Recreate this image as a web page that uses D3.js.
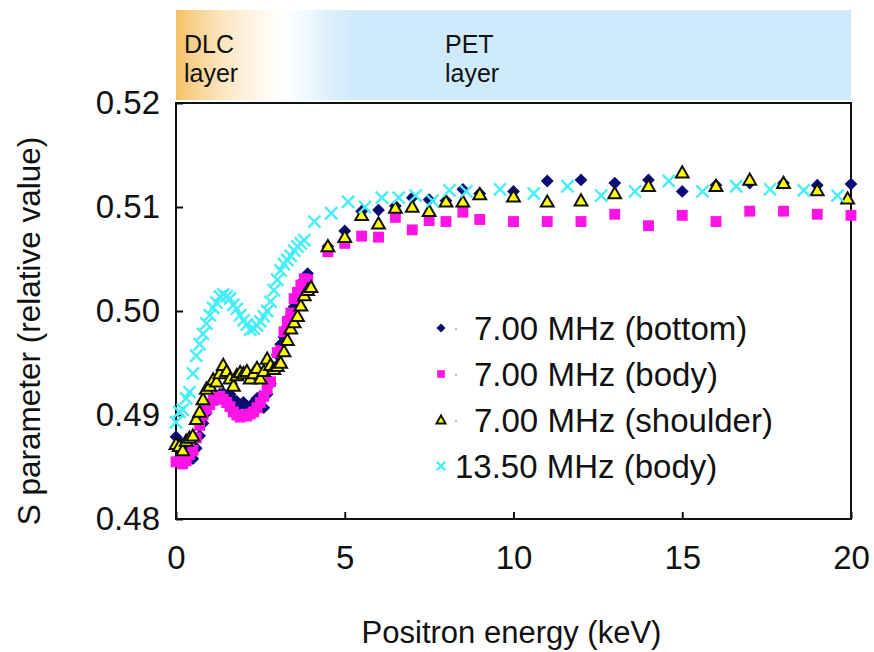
<!DOCTYPE html>
<html>
<head>
<meta charset="utf-8">
<script src="https://cdn.jsdelivr.net/npm/d3@7"></script>
<style>
  html, body { margin: 0; padding: 0; background: #fff; }
  text { font-family: "Liberation Sans", Arial, sans-serif; fill: #111; }
</style>
</head>
<body>
<svg id="chart" width="874" height="652"></svg>
<script>
// Positron energy (keV) and S parameter for each sample series
const bottomE = [0.0,0.1,0.2,0.3,0.4,0.5,0.6,0.7,0.8,0.9,1.0,1.1,1.2,1.3,1.4,1.5,1.6,1.7,1.8,1.9,2.0,2.1,2.2,2.3,2.4,2.5,2.6,2.7,2.8,2.9,3.0,3.1,3.2,3.3,3.4,3.5,3.6,3.7,3.8,3.9,4.5,5.0,5.5,6.0,6.5,7.0,7.5,8.0,8.5,9.0,10,11,12,13,14,15,16,17,18,19,20];
const bottomS = [0.4879,0.4875,0.4870,0.4865,0.4862,0.4858,0.4868,0.4880,0.4892,0.4902,0.4910,0.4914,0.4918,0.4920,0.4921,0.4918,0.4920,0.4915,0.4913,0.4910,0.4912,0.4908,0.4906,0.4912,0.4916,0.4918,0.4907,0.4920,0.4930,0.4945,0.4958,0.4968,0.4975,0.4985,0.4995,0.5004,0.5012,0.5020,0.5030,0.5036,0.5062,0.5077,0.5096,0.5097,0.5101,0.5109,0.5107,0.5106,0.5117,0.5113,0.5115,0.5125,0.5126,0.5123,0.5126,0.5115,0.5121,0.5123,0.5123,0.5121,0.5122];

const bodyE = [0.0,0.1,0.2,0.3,0.4,0.5,0.6,0.7,0.8,0.9,1.0,1.1,1.2,1.3,1.4,1.5,1.6,1.7,1.8,1.9,2.0,2.1,2.2,2.3,2.4,2.5,2.6,2.7,2.8,2.9,3.0,3.1,3.2,3.3,3.4,3.5,3.6,3.7,3.8,3.9,4.5,5.0,5.5,6.0,6.5,7.0,7.5,8.0,8.5,9.0,10,11,12,13,14,15,16,17,18,19,20];
const bodyS = [0.4855,0.4855,0.4853,0.4856,0.4862,0.4866,0.4878,0.4890,0.4900,0.4906,0.4910,0.4914,0.4916,0.4918,0.4915,0.4912,0.4908,0.4903,0.4900,0.4898,0.4900,0.4899,0.4901,0.4903,0.4907,0.4912,0.4918,0.4925,0.4932,0.4945,0.4960,0.4962,0.4980,0.4990,0.4998,0.5012,0.5018,0.5025,0.5031,0.5030,0.5057,0.5065,0.5072,0.5071,0.5090,0.5078,0.5087,0.5086,0.5095,0.5088,0.5086,0.5086,0.5086,0.5093,0.5082,0.5092,0.5086,0.5096,0.5096,0.5093,0.5092];

const shoulderE = [0.0,0.1,0.2,0.3,0.4,0.5,0.6,0.7,0.8,0.9,1.0,1.1,1.2,1.3,1.4,1.5,1.6,1.7,1.8,1.9,2.0,2.1,2.2,2.3,2.4,2.5,2.6,2.7,2.8,2.9,3.0,3.1,3.2,3.3,3.4,3.5,3.6,3.7,3.8,3.9,4.0,4.5,5.0,5.5,6.0,6.5,7.0,7.5,8.0,8.5,9.0,10,11,12,13,14,15,16,17,18,19,19.9];
const shoulderS = [0.4872,0.4870,0.4866,0.4875,0.4878,0.4880,0.4896,0.4903,0.4915,0.4925,0.4928,0.4934,0.4932,0.4940,0.4948,0.4942,0.4935,0.4928,0.4938,0.4941,0.4940,0.4942,0.4935,0.4940,0.4945,0.4935,0.4942,0.4954,0.4948,0.4944,0.4947,0.4950,0.4961,0.4972,0.4983,0.4989,0.4995,0.5005,0.5015,0.5020,0.5023,0.5062,0.5071,0.5092,0.5084,0.5099,0.5100,0.5096,0.5105,0.5105,0.5112,0.5110,0.5105,0.5106,0.5113,0.5120,0.5133,0.5120,0.5126,0.5123,0.5116,0.5108];

const body1350E = [0.0,0.1,0.2,0.3,0.4,0.5,0.6,0.7,0.8,0.9,1.0,1.1,1.2,1.3,1.4,1.5,1.6,1.7,1.8,1.9,2.0,2.1,2.2,2.3,2.4,2.5,2.6,2.7,2.8,2.9,3.0,3.1,3.2,3.3,3.4,3.5,3.6,3.7,3.8,4.1,4.6,5.1,5.6,6.1,6.6,7.1,7.6,8.1,8.6,9.6,10.6,11.6,12.6,13.6,14.6,15.6,16.6,17.6,18.6,19.6];
const body1350S = [0.4893,0.4903,0.4905,0.4916,0.4922,0.4940,0.4957,0.4968,0.4978,0.4988,0.4996,0.5003,0.5008,0.5014,0.5016,0.5014,0.5012,0.5006,0.5002,0.4996,0.4991,0.4987,0.4982,0.4983,0.4986,0.4990,0.4995,0.5000,0.5009,0.5020,0.5030,0.5039,0.5045,0.5049,0.5053,0.5058,0.5062,0.5065,0.5068,0.5086,0.5094,0.5105,0.5100,0.5109,0.5109,0.5111,0.5106,0.5116,0.5115,0.5117,0.5113,0.5120,0.5111,0.5115,0.5125,0.5115,0.5120,0.5117,0.5116,0.5111];

const seriesNames = ["7.00 MHz (bottom)", "7.00 MHz (body)", "7.00 MHz (shoulder)", "13.50 MHz (body)"];
const xTicks = [0, 5, 10, 15, 20];
const yTicks = [0.48, 0.49, 0.50, 0.51, 0.52];
const layerLabels = [["DLC", "layer"], ["PET", "layer"]];

const series = [
  { name: seriesNames[0], e: bottomE, s: bottomS, shape: "diamond" },
  { name: seriesNames[1], e: bodyE, s: bodyS, shape: "square" },
  { name: seriesNames[2], e: shoulderE, s: shoulderS, shape: "triangle" },
  { name: seriesNames[3], e: body1350E, s: body1350S, shape: "cross" }
];

const svg = d3.select("#chart");
const m = { left: 176, right: 851, top: 103, bottom: 519 };

const x = d3.scaleLinear().domain([0, 20]).range([m.left, m.right]);
const y = d3.scaleLinear().domain([0.48, 0.52]).range([m.bottom, m.top]);

// Layer banner above the plot: DLC (orange) fading into PET (light blue)
const defs = svg.append("defs");
const grad = defs.append("linearGradient").attr("id", "layerGrad")
  .attr("x1", "0%").attr("x2", "100%").attr("y1", "0%").attr("y2", "0%");
[[0, "#f4c063"], [0.025, "#f8d08c"], [0.07, "#fce6c2"], [0.12, "#fff6ea"], [0.16, "#ffffff"], [0.19, "#f2f9fe"], [0.23, "#dbeffc"], [0.27, "#cfeafb"], [1, "#cde9fb"]]
  .forEach(([o, c]) => grad.append("stop").attr("offset", o).attr("stop-color", c));

svg.append("rect")
  .attr("x", x(0)).attr("y", 10)
  .attr("width", x(20) - x(0)).attr("height", 90)
  .attr("fill", "url(#layerGrad)");

const bannerX = [184, 445];
layerLabels.forEach((lines, i) => {
  const t = svg.append("text").attr("x", bannerX[i]).attr("y", 53)
    .style("font-size", "25px");
  lines.forEach((ln, j) => {
    t.append("tspan").attr("x", bannerX[i]).attr("dy", j === 0 ? 0 : 29).text(ln);
  });
});

// Frame
svg.append("rect")
  .attr("x", m.left).attr("y", m.top)
  .attr("width", m.right - m.left).attr("height", m.bottom - m.top)
  .attr("fill", "none").attr("stroke", "#111").attr("stroke-width", 2);

// Axes with inward ticks
const xAxis = svg.append("g").attr("transform", `translate(0,${m.bottom})`)
  .call(d3.axisBottom(x).tickValues(xTicks).tickSizeInner(-7).tickSizeOuter(0).tickPadding(27).tickFormat(d3.format("d")));
const yAxis = svg.append("g").attr("transform", `translate(${m.left},0)`)
  .call(d3.axisLeft(y).tickValues(yTicks).tickSizeInner(-7).tickSizeOuter(0).tickPadding(16).tickFormat(d3.format(".2f")));
[xAxis, yAxis].forEach(g => {
  g.select(".domain").remove();
  g.selectAll("line").attr("stroke", "#111").attr("stroke-width", 2);
  g.selectAll("text").style("font-size", "33px").attr("fill", "#111")
    .style("font-family", '"Liberation Sans", Arial, sans-serif');
});
xAxis.selectAll("text").attr("dy", "0.71em");

svg.append("text").attr("x", (m.left + m.right) / 2 - 2).attr("y", 643)
  .attr("text-anchor", "middle").style("font-size", "31px")
  .text("Positron energy (keV)");
svg.append("text")
  .attr("transform", `translate(40,${(m.top + m.bottom) / 2 + 20}) rotate(-90)`)
  .attr("text-anchor", "middle").style("font-size", "31.5px")
  .text("S parameter (relative value)");

// Marker drawing
function marker(g, shape, cx, cy, r) {
  if (shape === "diamond") {
    g.append("path").attr("d", `M${cx},${cy - r}L${cx + r},${cy}L${cx},${cy + r}L${cx - r},${cy}Z`)
      .attr("fill", "#0c0c76");
  } else if (shape === "square") {
    const h = r * 0.85;
    g.append("rect").attr("x", cx - h).attr("y", cy - h).attr("width", 2 * h).attr("height", 2 * h)
      .attr("fill", "#ff14e6");
  } else if (shape === "triangle") {
    const h = r;
    g.append("path").attr("d", `M${cx},${cy - h}L${cx + h},${cy + h * 0.75}L${cx - h},${cy + h * 0.75}Z`)
      .attr("fill", "#ffff00").attr("stroke", "#111").attr("stroke-width", 2).attr("stroke-linejoin", "miter");
  } else {
    const h = r * 0.95;
    g.append("path").attr("d", `M${cx - h},${cy - h}L${cx + h},${cy + h}M${cx - h},${cy + h}L${cx + h},${cy - h}`)
      .attr("stroke", "#46eef6").attr("stroke-width", 2.4).attr("fill", "none");
  }
}

const plot = svg.append("g");
series.forEach(sr => {
  const g = plot.append("g");
  sr.e.forEach((e, i) => marker(g, sr.shape, x(e), y(sr.s[i]), 6.4));
});

// Legend
const legendY = [328, 374, 420, 466];
const lg = svg.append("g");
series.forEach((sr, i) => {
  const ly = legendY[i];
  marker(lg, sr.shape, 441, ly, 4.5);
  if (i < 3) {
    lg.append("circle").attr("cx", 456).attr("cy", ly + 1).attr("r", 1).attr("fill", "#c9a27a");
  }
  lg.append("text").attr("x", i < 3 ? 474 : 455).attr("y", ly).attr("dy", "0.36em")
    .style("font-size", "33px").text(sr.name);
});
</script>
</body>
</html>
